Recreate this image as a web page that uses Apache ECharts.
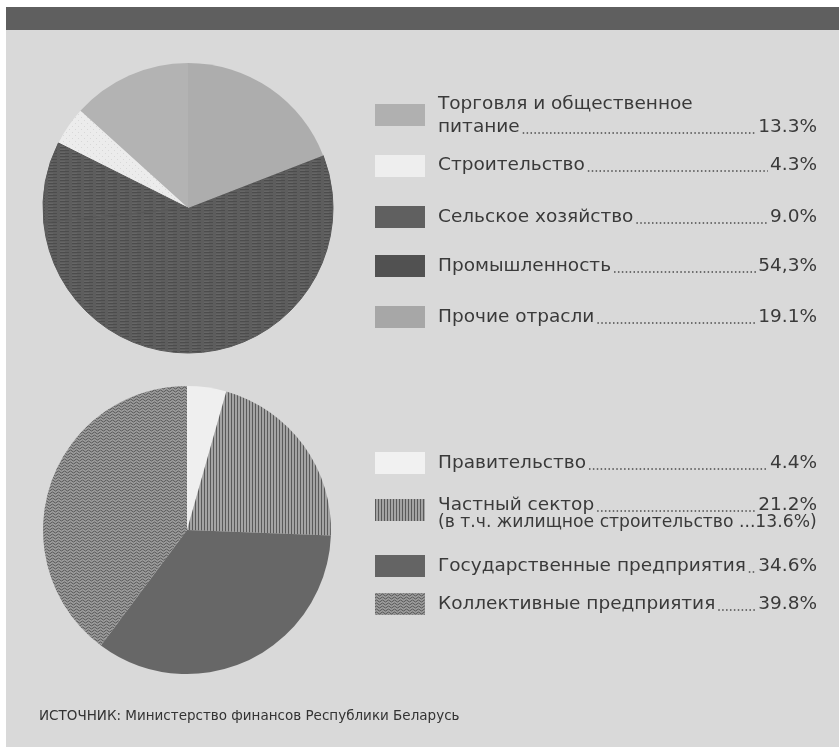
<!DOCTYPE html>
<html>
<head>
<meta charset="utf-8">
<script src="https://cdn.jsdelivr.net/npm/echarts@6/dist/echarts.min.js"></script>
<style>
html,body{margin:0;padding:0;background:#ffffff;}
#chart{width:839px;height:747px;}
</style>
</head>
<body>
<div id="chart"></div>
<script>
// ---- data ----
const topNames = ['Торговля и общественное\nпитание', 'Строительство', 'Сельское хозяйство', 'Промышленность', 'Прочие отрасли'];
const topValues = [13.3, 4.3, 9.0, 54.3, 19.1];
const topLabels = ['13.3%', '4.3%', '9.0%', '54,3%', '19.1%'];

const botNames = ['Правительство', 'Частный сектор', 'Государственные предприятия', 'Коллективные предприятия'];
const botValues = [4.4, 21.2, 34.6, 39.8];
const botLabels = ['4.4%', '21.2%', '34.6%', '39.8%'];
const botSubNote = ['', '(в т.ч. жилищное строительство ...13.6%)', '', ''];

const sourceText = 'ИСТОЧНИК: Министерство финансов Республики Беларусь';

// ---- patterns ----
function pat(w, h, bg, draw) {
  const c = document.createElement('canvas');
  c.width = w; c.height = h;
  const x = c.getContext('2d');
  x.fillStyle = bg; x.fillRect(0, 0, w, h);
  if (draw) draw(x);
  return { image: c, repeat: 'repeat' };
}
const pTrade = '#b3b3b3';
const pOther = '#adadad';
const pBuild = pat(6, 6, '#ececec', x => { x.fillStyle = '#d8d8d8'; x.fillRect(0, 0, 1, 1); x.fillRect(3, 3, 1, 1); });
const pInd = pat(12, 3, '#5d5d5d', x => { x.fillStyle = '#4c4c4c'; x.fillRect(0, 0, 9, 1); x.fillStyle = '#666'; x.fillRect(0, 2, 5, 1); });
const pGov = '#efefef';
const pPriv = pat(3, 2, '#a4a4a4', x => { x.fillStyle = '#5a5a5a'; x.fillRect(0, 0, 1, 2); });
const pState = '#676767';
const pColl = pat(6, 3, '#9c9c9c', x => {
  x.strokeStyle = '#555555'; x.lineWidth = 1;
  for (let k = -1; k <= 1; k++) {
    const o = k * 3;
    x.beginPath(); x.moveTo(0, 1 + o); x.quadraticCurveTo(1.5, 3 + o, 3, 1 + o); x.quadraticCurveTo(4.5, -1 + o, 6, 1 + o); x.stroke();
  }
});
const topFills = [pTrade, pBuild, pInd, pInd, pOther];
const topBorders = [null, null, '#585858', '#585858', null];
const topSwatch = ['#b0b0b0', '#eeeeee', '#606060', '#515151', '#a7a7a7'];
const botFills = [pGov, pPriv, pState, pColl];
const botSwatch = ['#f1f1f1', pPriv, '#646464', pColl];

// ---- legend graphics ----
const FONT = '18.5px "DejaVu Sans"';
const SUBFONT = '17.2px "DejaVu Sans"';
const TXT = '#3a3a3a';
const mc = document.createElement('canvas').getContext('2d');
mc.font = FONT;
function tw(s) { return mc.measureText(s).width; }

const nameX = 438, valRight = 817, swX = 375, swW = 50, swH = 22;
const graphics = [];
// backgrounds
graphics.push({ type: 'rect', z: -10, shape: { x: 6, y: 7, width: 833, height: 740 }, style: { fill: '#d9d9d9' } });
graphics.push({ type: 'rect', z: -9, shape: { x: 6, y: 7, width: 833, height: 23 }, style: { fill: '#5f5f5f' } });

function legendRow(name, label, lineY, swY, fill, sub) {
  const lines = name.split('\n');
  const n = lines.length;
  lines.forEach((ln, i) => {
    graphics.push({ type: 'text', x: nameX, y: lineY - (n - 1 - i) * 23, style: { text: ln, font: FONT, fill: TXT, textVerticalAlign: 'middle', textAlign: 'left' } });
  });
  graphics.push({ type: 'text', x: valRight, y: lineY, style: { text: label, font: FONT, fill: TXT, textVerticalAlign: 'middle', textAlign: 'right' } });
  const x1 = nameX + tw(lines[n - 1]) + 3;
  const x2 = valRight - tw(label) - 2;
  graphics.push({ type: 'line', shape: { x1: x1, y1: lineY + 6, x2: x2, y2: lineY + 6 }, style: { stroke: '#4a4a4a', lineWidth: 1.5, lineDash: [1.5, 2.4] } });
  if (sub) {
    graphics.push({ type: 'text', x: nameX, y: lineY + 18, style: { text: sub, font: SUBFONT, fill: TXT, textVerticalAlign: 'middle', textAlign: 'left' } });
  }
  graphics.push({ type: 'rect', shape: { x: swX, y: swY - swH / 2, width: swW, height: swH }, style: { fill: fill } });
}
const topRowY = [127, 165, 217, 266, 317];
const topSwY = [115, 166, 217, 266, 317];
topNames.forEach((nm, i) => legendRow(nm, topLabels[i], topRowY[i], topSwY[i], topSwatch[i], ''));
const botRowY = [463, 505, 566, 604];
const botSwY = [463, 510, 566, 604];
botNames.forEach((nm, i) => legendRow(nm, botLabels[i], botRowY[i], botSwY[i], botSwatch[i], botSubNote[i]));

graphics.push({ type: 'text', x: 39, y: 716, style: { text: sourceText, font: '13.5px "DejaVu Sans"', fill: '#333', textVerticalAlign: 'middle' } });

const chart = echarts.init(document.getElementById('chart'));
chart.setOption({
  backgroundColor: '#ffffff',
  animation: false,
  graphic: graphics,
  series: [
    {
      type: 'pie',
      center: [188, 208],
      radius: [0, 145],
      startAngle: 90,
      clockwise: false,
      label: { show: false },
      labelLine: { show: false },
      silent: true,
      data: topNames.map((n, i) => {
        const st = { color: topFills[i] };
        if (topBorders[i]) { st.borderColor = topBorders[i]; st.borderWidth = 1; }
        return { name: n, value: topValues[i], itemStyle: st };
      })
    },
    {
      type: 'pie',
      center: [187, 530],
      radius: [0, 144],
      startAngle: 90,
      clockwise: true,
      label: { show: false },
      labelLine: { show: false },
      silent: true,
      data: botNames.map((n, i) => ({ name: n, value: botValues[i], itemStyle: { color: botFills[i] } }))
    }
  ]
});
</script>
</body>
</html>
